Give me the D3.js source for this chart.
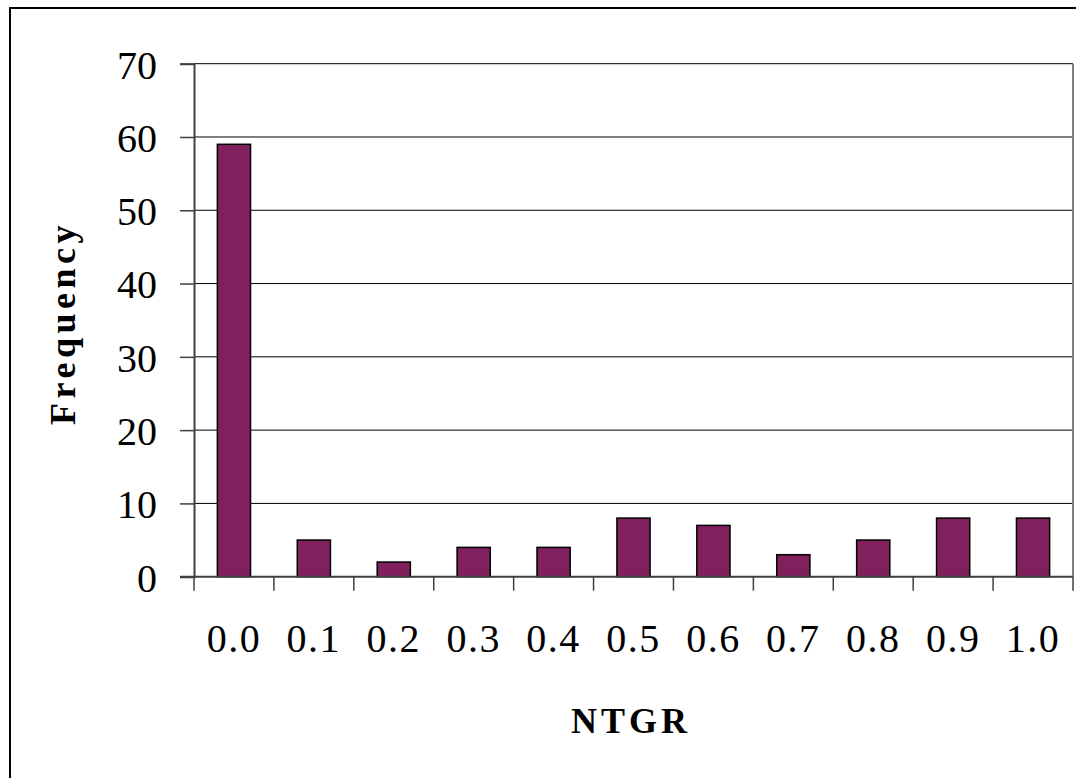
<!DOCTYPE html>
<html><head><meta charset="utf-8">
<script src="https://cdn.jsdelivr.net/npm/d3@7"></script>
<style>html,body{margin:0;padding:0;background:#fff;}svg{display:block;}</style>
</head><body>
<svg id="c" width="1076" height="778"></svg>
<script>
const categories = ["0.0","0.1","0.2","0.3","0.4","0.5","0.6","0.7","0.8","0.9","1.0"];
const frequency = [59, 5, 2, 4, 4, 8, 7, 3, 5, 8, 8];
const yTicks = [0, 10, 20, 30, 40, 50, 60, 70];

const svg = d3.select("#c");
const pL = 194, pR = 1073, pT = 63.7, pB = 576.7;
const serif = "'Liberation Serif','Times New Roman',serif";

// outer frame (extends beyond the window on right/bottom)
svg.append("rect").attr("x", 10).attr("y", 8).attr("width", 1100).attr("height", 800)
  .attr("fill", "none").attr("stroke", "#000").attr("stroke-width", 2);

const x = d3.scaleBand().domain(categories).range([pL, pR]).paddingInner(0.585).paddingOuter(0.2925);
const xb = d3.scaleBand().domain(categories).range([pL, pR]);
const y = d3.scaleLinear().domain([0, 70]).range([pB, pT]);

// gridlines
svg.append("g").selectAll("line").data(yTicks.filter(d => d > 0)).join("line")
  .attr("x1", pL).attr("x2", pR).attr("y1", d => y(d)).attr("y2", d => y(d))
  .attr("stroke", "#000").attr("stroke-width", 1);

// plot right border
svg.append("line").attr("x1", pR).attr("x2", pR).attr("y1", pT).attr("y2", pB)
  .attr("stroke", "#808080").attr("stroke-width", 2);

// bars
svg.append("g").selectAll("rect").data(frequency).join("rect")
  .attr("x", (d, i) => x(categories[i])).attr("width", x.bandwidth())
  .attr("y", d => y(d)).attr("height", d => pB - y(d))
  .attr("fill", "#80205f").attr("stroke", "#000").attr("stroke-width", 1.5);

// y axis
const yAxis = d3.axisLeft(y).tickValues(yTicks).tickSize(14).tickPadding(23).tickFormat(d3.format("d"));
const gy = svg.append("g").attr("transform", `translate(${pL},0)`).call(yAxis);
gy.select(".domain").attr("stroke", "#404040").attr("stroke-width", 2);
gy.selectAll(".tick line").attr("stroke", "#404040").attr("stroke-width", 1.5);
gy.selectAll(".tick text").attr("font-family", serif)
  .attr("font-size", 40).attr("fill", "#000").attr("dy", "0.36em");

// x axis: ticks at band boundaries
const bounds = categories.map(c => xb(c)).concat([pR]);
const gx = svg.append("g");
gx.append("line").attr("x1", pL - 14).attr("x2", pR).attr("y1", pB).attr("y2", pB)
  .attr("stroke", "#404040").attr("stroke-width", 2);
gx.selectAll("line.t").data(bounds).join("line").attr("class", "t")
  .attr("x1", d => d).attr("x2", d => d).attr("y1", pB).attr("y2", pB + 14)
  .attr("stroke", "#404040").attr("stroke-width", 1.5);
gx.selectAll("text").data(categories).join("text")
  .attr("x", d => xb(d) + xb.bandwidth() / 2).attr("y", 652)
  .attr("text-anchor", "middle")
  .attr("font-family", serif)
  .attr("font-size", 40).attr("letter-spacing", 1.5).text(d => d);

// axis titles
svg.append("text").attr("transform", `translate(75,323) rotate(-90)`)
  .attr("text-anchor", "middle").attr("font-family", serif)
  .attr("font-weight", "bold").attr("font-size", 36).attr("letter-spacing", 4.5).text("Frequency");
svg.append("text").attr("x", 631).attr("y", 733)
  .attr("text-anchor", "middle").attr("font-family", serif)
  .attr("font-weight", "bold").attr("font-size", 36).attr("letter-spacing", 4).text("NTGR");
</script>
</body></html>
